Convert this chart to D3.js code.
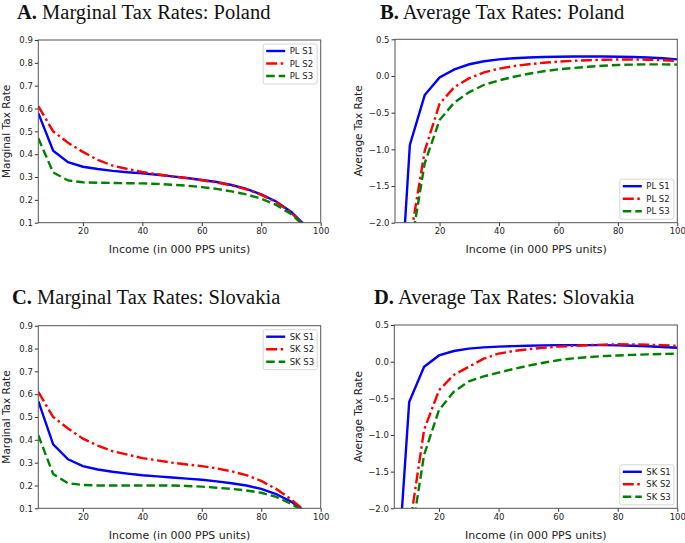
<!DOCTYPE html>
<html>
<head>
<meta charset="utf-8">
<script src="https://d3js.org/d3.v7.min.js"></script>
<style>
  body { margin: 0; background: #fff; }
  svg { display: block; }
</style>
</head>
<body>
<script>
// Income grid (000 PPS units)
const income = [5, 10, 15, 20, 25, 30, 35, 40, 45, 50, 55, 60, 65, 70, 75, 80, 85, 90, 95, 100];

// Marginal tax rates, Poland
const mtrPL1 = [0.58, 0.415, 0.365, 0.345, 0.335, 0.327, 0.321, 0.316, 0.310, 0.303, 0.296, 0.287, 0.278, 0.265, 0.248, 0.224, 0.193, 0.148, 0.085, 0.0];
const mtrPL2 = [0.61, 0.50, 0.45, 0.41, 0.375, 0.35, 0.335, 0.322, 0.312, 0.303, 0.295, 0.286, 0.276, 0.263, 0.246, 0.222, 0.190, 0.145, 0.080, 0.0];
const mtrPL3 = [0.47, 0.32, 0.285, 0.277, 0.275, 0.274, 0.273, 0.272, 0.270, 0.266, 0.262, 0.256, 0.248, 0.237, 0.224, 0.205, 0.178, 0.138, 0.080, 0.0];

// Average tax rates, Poland
const atrPL1 = [-4.2, -0.94, -0.26, -0.02, 0.09, 0.16, 0.20, 0.227, 0.242, 0.252, 0.259, 0.263, 0.265, 0.266, 0.265, 0.263, 0.258, 0.251, 0.241, 0.227];
const atrPL2 = [-5.5, -2.25, -1.02, -0.38, -0.15, -0.03, 0.05, 0.10, 0.135, 0.16, 0.18, 0.195, 0.207, 0.215, 0.221, 0.225, 0.225, 0.222, 0.215, 0.205];
const atrPL3 = [-6.0, -2.42, -1.19, -0.60, -0.36, -0.22, -0.12, -0.06, -0.01, 0.03, 0.065, 0.09, 0.11, 0.125, 0.14, 0.15, 0.155, 0.158, 0.158, 0.155];

// Marginal tax rates, Slovakia
const mtrSK1 = [0.57, 0.38, 0.315, 0.285, 0.27, 0.26, 0.252, 0.245, 0.24, 0.235, 0.23, 0.225, 0.218, 0.21, 0.20, 0.185, 0.162, 0.13, 0.085, 0.0];
const mtrSK2 = [0.61, 0.50, 0.45, 0.405, 0.375, 0.35, 0.335, 0.32, 0.31, 0.30, 0.292, 0.285, 0.275, 0.262, 0.245, 0.22, 0.185, 0.14, 0.085, 0.0];
const mtrSK3 = [0.42, 0.25, 0.21, 0.202, 0.20, 0.20, 0.20, 0.20, 0.20, 0.20, 0.198, 0.195, 0.19, 0.185, 0.178, 0.168, 0.15, 0.12, 0.08, 0.0];

// Average tax rates, Slovakia
const atrSK1 = [-3.57, -0.55, -0.07, 0.085, 0.145, 0.178, 0.195, 0.205, 0.212, 0.218, 0.222, 0.225, 0.226, 0.226, 0.225, 0.222, 0.217, 0.21, 0.20, 0.19];
const atrSK2 = [-5.0, -2.3, -0.93, -0.39, -0.18, -0.07, 0.04, 0.11, 0.145, 0.17, 0.19, 0.205, 0.215, 0.225, 0.232, 0.237, 0.236, 0.232, 0.225, 0.215];
const atrSK3 = [-5.5, -2.57, -1.27, -0.66, -0.41, -0.27, -0.20, -0.15, -0.10, -0.055, -0.015, 0.02, 0.045, 0.062, 0.075, 0.085, 0.093, 0.10, 0.105, 0.108];

const xTicks = [20, 40, 60, 80, 100];
const mtrTicks = [0.1, 0.2, 0.3, 0.4, 0.5, 0.6, 0.7, 0.8, 0.9];
const atrTicks = [-2.0, -1.5, -1.0, -0.5, 0.0, 0.5];

const seriesNames = ['S1', 'S2', 'S3'];

const W = 685, H = 543;

// line styles: solid, dash-dot, dashed
const styles = [
    { color: '#0000ff', dash: null },
    { color: '#ff0000', dash: '11,3.5,2.5,3.5' },
    { color: '#008000', dash: '8.5,4' }
];

const panels = [
    { letter: 'A.', title: 'Marginal Tax Rates: Poland', country: 'PL', data: [mtrPL1, mtrPL2, mtrPL3],
      yDomain: [0.1, 0.9], yTicks: mtrTicks, ylabel: 'Marginal Tax Rate',
      box: { l: 38.3, r: 320.7, t: 40, b: 222.7 }, titleX: 17, titleY: 18.5, ylabelX: 9.5, legend: 'top' },
    { letter: 'B.', title: 'Average Tax Rates: Poland', country: 'PL', data: [atrPL1, atrPL2, atrPL3],
      yDomain: [-2, 0.5], yTicks: atrTicks, ylabel: 'Average Tax Rate',
      box: { l: 395, r: 677.3, t: 39.3, b: 222.7 }, titleX: 380, titleY: 18.5, ylabelX: 361.5, legend: 'bottom' },
    { letter: 'C.', title: 'Marginal Tax Rates: Slovakia', country: 'SK', data: [mtrSK1, mtrSK2, mtrSK3],
      yDomain: [0.1, 0.9], yTicks: mtrTicks, ylabel: 'Marginal Tax Rate',
      box: { l: 38.3, r: 320.7, t: 325.7, b: 508.3 }, titleX: 12, titleY: 304, ylabelX: 9.5, legend: 'top' },
    { letter: 'D.', title: 'Average Tax Rates: Slovakia', country: 'SK', data: [atrSK1, atrSK2, atrSK3],
      yDomain: [-2, 0.5], yTicks: atrTicks, ylabel: 'Average Tax Rate',
      box: { l: 394.3, r: 677.3, t: 325, b: 508.3 }, titleX: 374, titleY: 303.5, ylabelX: 361.5, legend: 'bottom' }
];

const svg = d3.select('body').append('svg')
    .attr('width', W)
    .attr('height', H);

panels.forEach((p, i) => drawPanel(p, i));

function drawPanel(p, idx) {
    const b = p.box;
    const x = d3.scaleLinear().domain([5, 100]).range([b.l, b.r]);
    const y = d3.scaleLinear().domain(p.yDomain).range([b.b, b.t]);

    const g = svg.append('g');

    // title
    const title = g.append('text')
        .attr('x', p.titleX)
        .attr('y', p.titleY)
        .attr('font-family', 'Liberation Serif, serif')
        .attr('font-size', '20.5px')
        .attr('fill', '#111');
    title.append('tspan').attr('font-weight', 'bold').text(p.letter);
    title.append('tspan').text(' ' + p.title);

    // clip
    const clipId = 'clip' + idx;
    g.append('clipPath').attr('id', clipId)
        .append('rect')
        .attr('x', b.l).attr('y', b.t)
        .attr('width', b.r - b.l).attr('height', b.b - b.t);

    // axes
    const xAxis = g.append('g')
        .attr('transform', `translate(0,${b.b})`)
        .call(d3.axisBottom(x).tickValues(xTicks).tickSize(3.5).tickPadding(2).tickFormat(d3.format('d')));
    const yAxis = g.append('g')
        .attr('transform', `translate(${b.l},0)`)
        .call(d3.axisLeft(y).tickValues(p.yTicks).tickSize(3.5).tickPadding(2).tickFormat(d3.format('.1f')));

    [xAxis, yAxis].forEach(ax => {
        ax.select('.domain').remove();
        ax.selectAll('line').attr('stroke', '#333');
        ax.selectAll('text')
            .attr('font-family', 'DejaVu Sans, sans-serif')
            .attr('font-size', '8.5px')
            .attr('fill', '#222');
    });

    // lines
    const line = d3.line()
        .x((d, i) => x(income[i]))
        .y(d => y(d));

    const lines = g.append('g').attr('clip-path', `url(#${clipId})`);
    p.data.forEach((vals, k) => {
        lines.append('path')
            .datum(vals)
            .attr('fill', 'none')
            .attr('stroke', styles[k].color)
            .attr('stroke-width', 2.4)
            .attr('stroke-dasharray', styles[k].dash)
            .attr('d', line);
    });

    // frame
    g.append('rect')
        .attr('x', b.l).attr('y', b.t)
        .attr('width', b.r - b.l).attr('height', b.b - b.t)
        .attr('fill', 'none')
        .attr('stroke', '#555')
        .attr('stroke-width', 1);

    // axis labels
    g.append('text')
        .attr('x', (b.l + b.r) / 2)
        .attr('y', b.b + 30.5)
        .attr('text-anchor', 'middle')
        .attr('font-family', 'DejaVu Sans, sans-serif')
        .attr('font-size', '11px')
        .attr('fill', '#222')
        .text('Income (in 000 PPS units)');

    g.append('text')
        .attr('transform', `translate(${p.ylabelX},${(b.t + b.b) / 2}) rotate(-90)`)
        .attr('text-anchor', 'middle')
        .attr('font-family', 'DejaVu Sans, sans-serif')
        .attr('font-size', '10.5px')
        .attr('fill', '#222')
        .text(p.ylabel);

    // legend
    const lw = 54, lh = 40;
    const lx = b.r - 3.5 - lw;
    const ly = p.legend === 'top' ? b.t + 4 : b.b - 3.5 - lh;
    const leg = g.append('g').attr('transform', `translate(${lx},${ly})`);
    leg.append('rect')
        .attr('width', lw).attr('height', lh)
        .attr('rx', 2)
        .attr('fill', '#fff')
        .attr('fill-opacity', 0.85)
        .attr('stroke', '#ccc')
        .attr('stroke-width', 0.8);
    seriesNames.forEach((s, k) => {
        const yy = 7 + k * 12.5;
        leg.append('line')
            .attr('x1', 3).attr('x2', 22)
            .attr('y1', yy).attr('y2', yy)
            .attr('stroke', styles[k].color)
            .attr('stroke-width', 2.4)
            .attr('stroke-dasharray', styles[k].dash);
        leg.append('text')
            .attr('x', 26.5)
            .attr('y', yy + 3)
            .attr('font-family', 'DejaVu Sans, sans-serif')
            .attr('font-size', '8.5px')
            .attr('fill', '#222')
            .text(p.country + ' ' + s);
    });
}
</script>
</body>
</html>
